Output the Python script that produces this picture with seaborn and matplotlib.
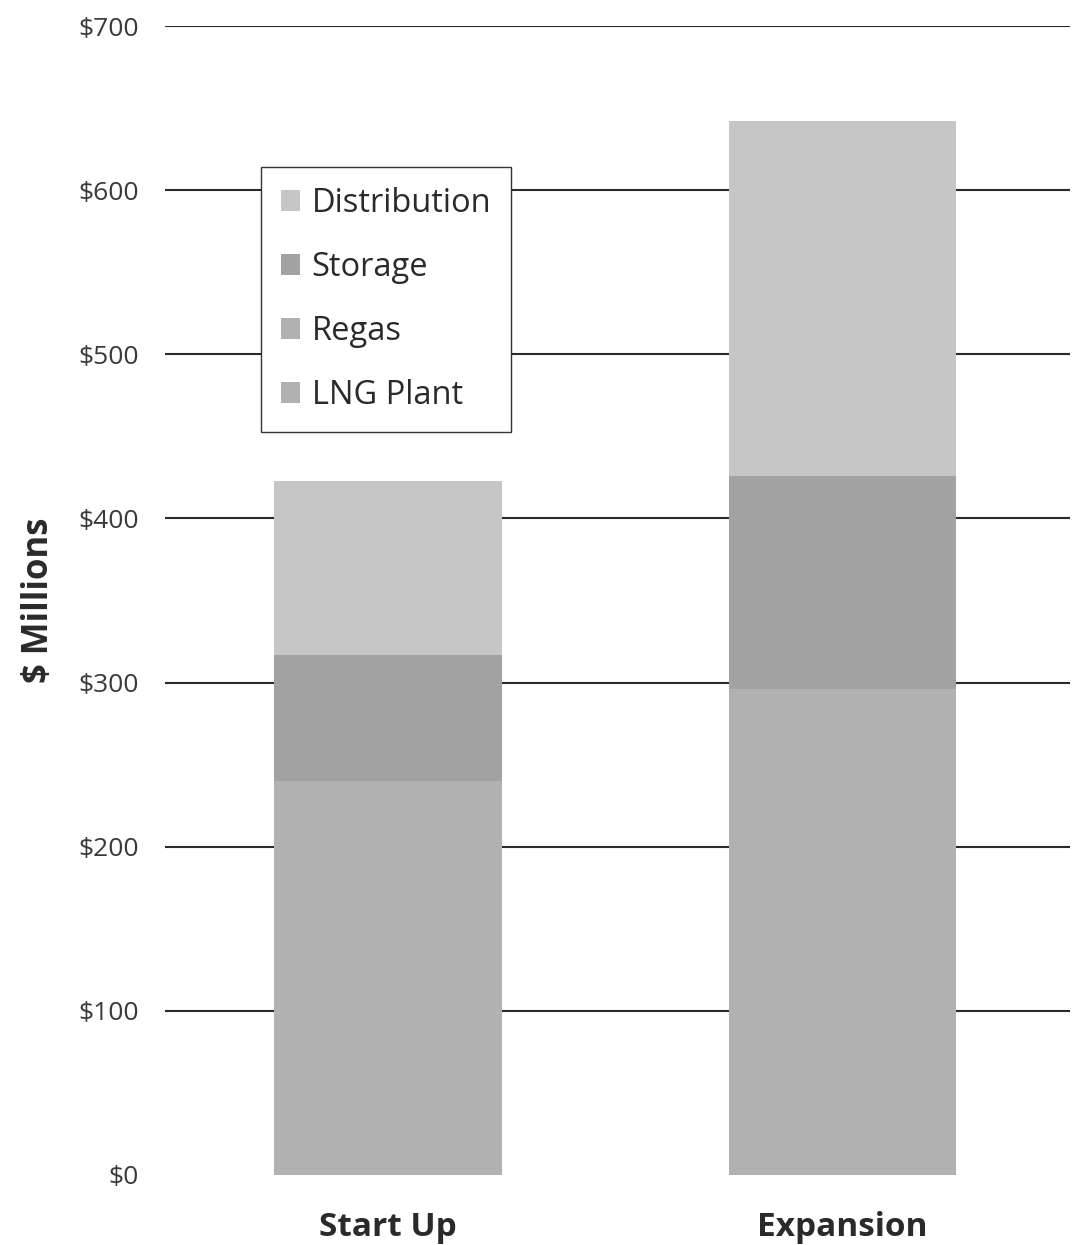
import matplotlib
matplotlib.use("Agg")
import matplotlib.pyplot as plt
import seaborn as sns
import pandas as pd
import numpy as np

# Capital cost by phase ($ millions)
phases = ["Start Up", "Expansion"]
lng_plant = [180, 230]
regas = [60, 66]
storage = [77, 130]
distribution = [106, 216]

components = ["LNG Plant", "Regas", "Storage", "Distribution"]
colors = {
    "LNG Plant": "#b1b1b1",
    "Regas": "#b1b1b1",
    "Storage": "#a2a2a2",
    "Distribution": "#c6c6c6",
}

sns.set_theme(style="white")
plt.rcParams["font.family"] = ["Open Sans", "DejaVu Sans"]

df = pd.DataFrame({
    "Phase": phases,
    "LNG Plant": lng_plant,
    "Regas": regas,
    "Storage": storage,
    "Distribution": distribution,
})
cum = df[components].cumsum(axis=1)
cum["Phase"] = df["Phase"]

fig = plt.figure(figsize=(10.78, 12.45), dpi=100)
ax = fig.add_axes([165 / 1078, 1 - 1175 / 1245, 905 / 1078, 1149 / 1245])

# Draw cumulative layers from the top segment down so each covers the one beneath
for comp in reversed(components):
    sns.barplot(data=cum, x="Phase", y=comp, order=phases, color=colors[comp],
                saturation=1, width=0.5, label=comp, ax=ax, zorder=2,
                linewidth=0)

ax.set_xlim(-0.49, 1.5)
ax.set_ylim(0, 700)
yt = np.arange(0, 701, 100)
ax.set_yticks(yt)
ax.set_yticklabels([f"${v}" for v in yt], fontsize=19, color="#3a3a3a")
for v in yt[1:]:
    ax.axhline(v, color="#2a2a2a", linewidth=1.5, zorder=1)

for s in ax.spines.values():
    s.set_visible(False)
ax.tick_params(axis="y", length=0, pad=19)
ax.tick_params(axis="x", length=0, pad=26)
for lbl in ax.get_xticklabels():
    lbl.set_fontsize(24)
    lbl.set_fontweight("bold")
    lbl.set_color("#2a2a2a")

ax.set_xlabel("")
ax.set_ylabel("$ Millions", fontsize=25, fontweight="bold", color="#2a2a2a")
ax.yaxis.set_label_coords(-0.119, 0.5)

handles, labels = ax.get_legend_handles_labels()
leg = ax.legend(handles, labels, loc="upper left",
                bbox_to_anchor=(0.106, 0.877), fontsize=23.5,
                frameon=True, fancybox=False, edgecolor="#333333",
                framealpha=1, borderpad=0.6, labelspacing=0.95,
                handlelength=0.6, handleheight=0.6, handletextpad=0.35,
                borderaxespad=0)
leg.get_frame().set_linewidth(1.0)
for t in leg.get_texts():
    t.set_color("#2a2a2a")

fig.savefig("out.png", dpi=100)
